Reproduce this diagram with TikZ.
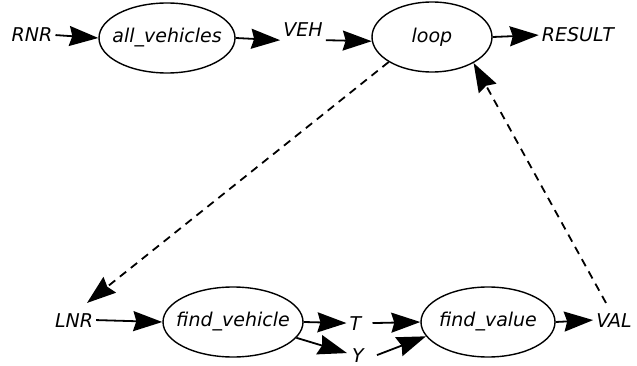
\documentclass[tikz,border=0pt]{standalone}
\usepackage{fontspec}
\setmainfont{DejaVu Sans}
\usetikzlibrary{shapes.geometric,arrows.meta}
\begin{document}
\begin{tikzpicture}[x=1pt,y=-1pt,
  every node/.style={font=\fontsize{19}{23}\selectfont\itshape},
  proc/.style={ellipse,draw,line width=1.4pt,inner ysep=0pt,inner xsep=-8pt},
  datum/.style={anchor=base,inner sep=3pt},
  flow/.style={line width=1.8pt,-{Stealth[length=29pt 0,width=20pt 0,inset=3pt 0]}},
  ctrl/.style={flow,dash pattern=on 8pt off 6pt}]
\useasboundingbox (0,0) rectangle (637,366);

% processes
\node[proc,minimum width=136pt,minimum height=70pt] (allv) at (167,38) {all\_vehicles};
\node[proc,minimum width=120pt,minimum height=70pt] (loop) at (432,37) {loop};
\node[proc,minimum width=140pt,minimum height=70pt] (fveh) at (233,322) {find\_vehicle};
\node[proc,minimum width=134pt,minimum height=70pt] (fval) at (488,322) {find\_value};

% data
\node[datum] (RNR) at (32,42) {RNR};
\node[datum] (VEH) at (303,37) {VEH};
\node[datum] (RESULT) at (578,42) {RESULT};
\node[datum] (LNR) at (74,327) {LNR};
\node[datum] (T) at (355.5,330) {T};
\node[datum] (Y) at (358,362) {Y};
\node[datum] (VAL) at (614,327) {VAL};

% data flow
\draw[flow] (RNR.east) -- (allv.west);
\draw[flow] (allv.east) -- (VEH.south west);
\draw[flow] (VEH.south east) -- (loop.184);
\draw[flow] (loop.east) -- (RESULT.west);
\draw[flow] (LNR.east) -- (fveh.west);
\draw[flow] (fveh.east) -- (T.west);
\draw[flow] (fveh.-14.5) -- ([shift={(-2,-2)}]Y.west);
\draw[flow] ([shift={(8,0)}]T.east) -- (fval.west);
\draw[flow] ([shift={(10,0)}]Y.east) -- (fval.193);
\draw[flow] (fval.east) -- (VAL.west);

% control flow
\draw[ctrl] (loop.210) -- ([shift={(13,-7)}]LNR.north);
\draw[ctrl] ([shift={(-8,-7)}]VAL.north) -- (loop.328);
\end{tikzpicture}
\end{document}
